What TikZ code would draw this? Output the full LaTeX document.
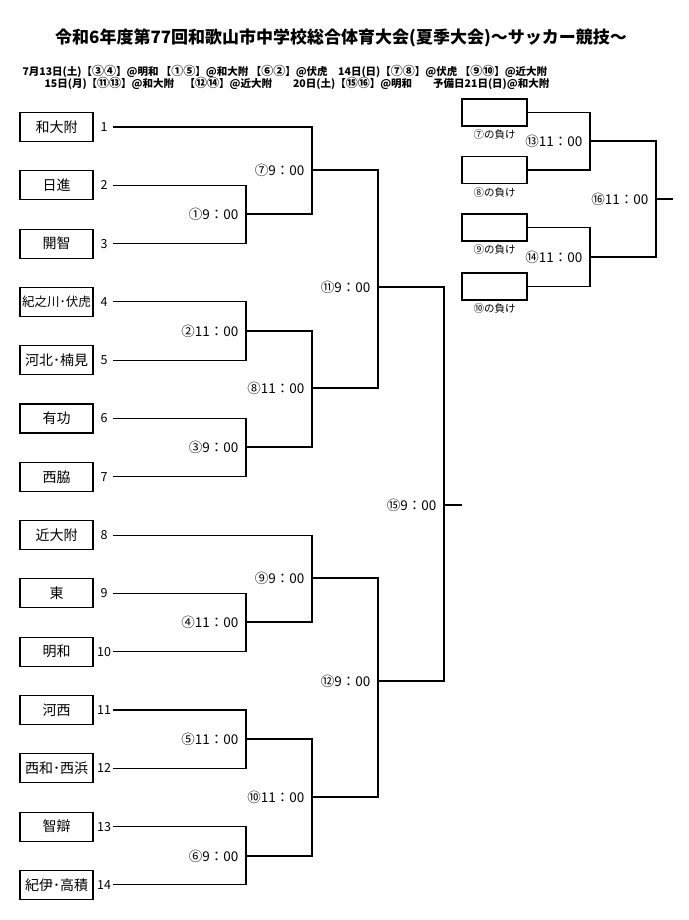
\documentclass[tikz,border=0pt]{standalone}
\usepackage{fontspec}
\setmainfont{Noto Sans CJK JP}
\usetikzlibrary{positioning}
\newcommand\cnum[1]{{\fontsize{12}{10}\selectfont #1}}

\begin{document}
\begin{tikzpicture}[x=1pt,y=-1pt,line width=1.1pt,
  team/.style={draw,minimum width=73pt,minimum height=29pt,inner sep=0pt,font=\fontsize{14}{14}\selectfont},
  loser/.style={draw,minimum width=65pt,minimum height=27pt,inner sep=0pt},
  num/.style={inner sep=0pt,font=\fontsize{12.5}{12.5}\selectfont},
  time/.style={inner sep=1pt,font=\fontsize{13.5}{13.5}\selectfont},
  note/.style={inner sep=0pt,font=\fontsize{10.5}{10.5}\selectfont},
  head/.style={anchor=west,inner sep=0pt,font=\bfseries\fontsize{10.5}{10.5}\selectfont}]
\useasboundingbox (0,0) rectangle (688,920);
\node[font=\bfseries\fontsize{17}{17}\selectfont] (title) at (341,38) {令和6年度第77回和歌山市中学校総合体育大会(夏季大会)～サッカー競技～};
% schedule
\node[head] (day1) at (22,71) {7月13日(土)【\cnum{③④}】@明和 【\cnum{①⑤}】@和大附 【\cnum{⑥②}】@伏虎　14日(日)【\cnum{⑦⑧}】@伏虎 【\cnum{⑨⑩}】@近大附};
\node[head] (day2) at (44,83) {15日(月)【\cnum{⑪⑬}】@和大附　【\cnum{⑫⑭}】@近大附　　20日(土)【\cnum{⑮⑯}】@明和　　予備日21日(日)@和大附};
% teams
\foreach \nm [count=\i, evaluate=\i as \y using 127+(\i-1)*58.3] in {和大附,日進,開智,{\fontsize{12.5}{12.5}\selectfont 紀之川･伏虎},河北･楠見,有功,西脇,近大附,東,明和,河西,西和･西浜,智辯,紀伊･高積}{
  \node[team] (t\i) at (56.5,\y) {\nm};
  \node[num] (n\i) at (104,\y) {\i};
  \coordinate (s\i) at (113,\y);
}
% losers of round 2
\foreach \k/\y/\c in {7/112.5/⑦,8/170/⑧,9/227.5/⑨,10/286.5/⑩}{
  \node[loser] (b\k) at (494.5,\y) {};
  \node[note,below=3pt of b\k] (c\k) {\c の負け};
}
\coordinate (m1) at (246,214);
\coordinate (m2) at (246,331);
\coordinate (m3) at (246,447);
\coordinate (m4) at (246,622);
\coordinate (m5) at (246,739);
\coordinate (m6) at (246,856);
\coordinate (m7) at (312,170);
\coordinate (m8) at (312,388);
\coordinate (m9) at (312,578);
\coordinate (m10) at (312,797);
\coordinate (m11) at (378,287);
\coordinate (m12) at (378,681);
\coordinate (m13) at (590,141);
\coordinate (m14) at (590,257);
\coordinate (m15) at (444,505);
\coordinate (m16) at (656,199);
\coordinate (fin) at (462,505);
\coordinate (fin2) at (673,199);
% brackets
\foreach \m/\a/\b in {m1/s2/s3,m2/s4/s5,m3/s6/s7,m4/s9/s10,m5/s11/s12,m6/s13/s14,
  m7/s1/m1,m8/m2/m3,m9/s8/m4,m10/m5/m6,m11/m7/m8,m12/m9/m10,m15/m11/m12,
  m13/b7.east/b8.east,m14/b9.east/b10.east,m16/m13/m14}
  \draw (\a) -| (\m) |- (\b);
\draw (m15) -- (fin);
\draw (m16) -- (fin2);
% kick-off times
\foreach \m/\t in {m1/①9：00,m2/②11：00,m3/③9：00,m4/④11：00,m5/⑤11：00,m6/⑥9：00,
  m7/⑦9：00,m8/⑧11：00,m9/⑨9：00,m10/⑩11：00,m11/⑪9：00,m12/⑫9：00,
  m13/⑬11：00,m14/⑭11：00,m15/⑮9：00,m16/⑯11：00}
  \node[time,left=6pt of \m] (l\m) {\t};
\end{tikzpicture}
\end{document}
